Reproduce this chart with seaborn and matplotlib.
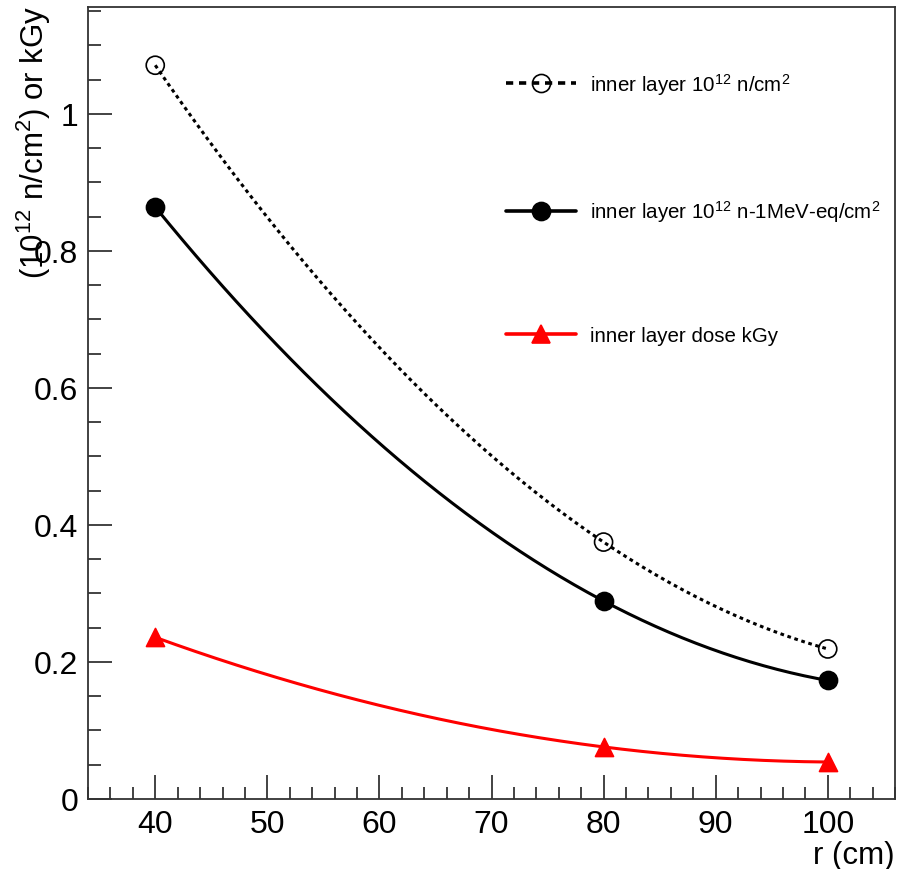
import numpy as np
import pandas as pd
import matplotlib
matplotlib.use("Agg")
import matplotlib.pyplot as plt
import seaborn as sns
from matplotlib.ticker import MultipleLocator

r_cm = [40, 80, 100]
flux_n = [1.071, 0.375, 0.219]
flux_neq = [0.864, 0.289, 0.173]
dose_kgy = [0.236, 0.076, 0.054]

labels = [r"inner layer 10$^{12}$ n/cm$^{2}$",
          r"inner layer 10$^{12}$ n-1MeV-eq/cm$^{2}$",
          "inner layer dose kGy"]

sns.set_style("ticks")
plt.rcParams['font.family'] = ['Liberation Sans', 'DejaVu Sans']
plt.rcParams['mathtext.default'] = 'regular'
plt.rcParams['mathtext.fontset'] = 'custom'
plt.rcParams['mathtext.rm'] = 'Liberation Sans'
plt.rcParams['text.color'] = 'black'
plt.rcParams['axes.labelcolor'] = 'black'

fig = plt.figure(figsize=(8.97, 8.70), dpi=100)
ax = fig.add_axes([88/897, 1-800/870, (895-88)/897, (800-8)/870])

styles = [
    dict(color="black", ls=(0, (1.2, 1.2)), marker="o", mfc="none", ms=13, mew=1.2),
    dict(color="black", ls="-", marker="o", mfc="black", ms=13, mew=1.2),
    dict(color="red", ls="-", marker="^", mfc="red", ms=13, mew=1.2),
]

handles = []
for yvals, st, lab in zip([flux_n, flux_neq, dose_kgy], styles, labels):
    x = np.array(r_cm, float)
    y = np.array(yvals, float)
    coef = np.polyfit(x, y, 2)
    xs = np.linspace(x.min(), x.max(), 200)
    df = pd.DataFrame({"r": xs, "v": np.polyval(coef, xs)})
    sns.lineplot(data=df, x="r", y="v", ax=ax, color=st["color"],
                 linestyle=st["ls"], lw=2.2)
    sns.scatterplot(x=x, y=y, ax=ax, marker=st["marker"], s=st["ms"]**2,
                    facecolor=st["mfc"], edgecolor=st["color"],
                    linewidth=st["mew"], zorder=5)
    hls = (0, (2.0, 1.6)) if st["ls"] != "-" else "-"
    h, = ax.plot([], [], color=st["color"], ls=hls, lw=2.6,
                 marker=st["marker"], ms=st["ms"], mfc=st["mfc"],
                 mec=st["color"], mew=st["mew"])
    handles.append(h)

ax.set_xlim(34, 106)
ax.set_ylim(0, 1.156)
ax.xaxis.set_major_locator(MultipleLocator(10))
ax.xaxis.set_minor_locator(MultipleLocator(2))
ax.yaxis.set_minor_locator(MultipleLocator(0.05))
ax.set_yticks([0, 0.2, 0.4, 0.6, 0.8, 1.0])
ax.set_yticklabels(["0", "0.2", "0.4", "0.6", "0.8", "1"])
ax.tick_params(which="major", direction="in", length=17, width=1.2,
               labelsize=23, pad=7, color="#222222", labelcolor="black")
ax.tick_params(which="minor", direction="in", length=9, width=1.2,
               color="#222222")
for s in ax.spines.values():
    s.set_visible(True)
    s.set_linewidth(1.3)
    s.set_color("#333333")

ax.set_xlabel("r (cm)", fontsize=22.5, loc="right")
ax.xaxis.set_label_coords(1.0, -0.052)
ax.set_ylabel(r"(10$^{12}$ n/cm$^{2}$) or kGy", fontsize=22.5, loc="top")
ax.yaxis.set_label_coords(-0.043, 1.003)

leg = ax.legend(handles, labels, loc="upper left",
                bbox_to_anchor=(0.508, 0.93), frameon=False,
                fontsize=14.8, handlelength=3.4, handletextpad=0.7,
                labelspacing=4.95, borderaxespad=0)

fig.savefig("out.png", dpi=100)
